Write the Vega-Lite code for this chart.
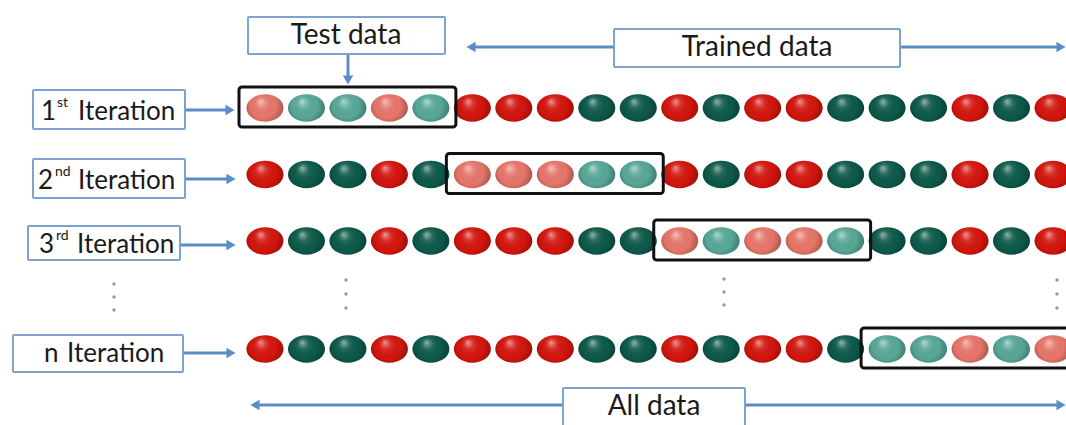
{
  "$schema": "https://vega.github.io/schema/vega-lite/v6.json",
  "width": 1066,
  "height": 425,
  "autosize": {"type": "fit", "contains": "padding"},
  "padding": 0,
  "background": "white",
  "config": {"view": {"stroke": null}},
  "datasets": {
    "balls": [
      {"row":1,"slot":1,"label":"red","fold":"test"},{"row":1,"slot":2,"label":"green","fold":"test"},{"row":1,"slot":3,"label":"green","fold":"test"},{"row":1,"slot":4,"label":"red","fold":"test"},{"row":1,"slot":5,"label":"green","fold":"test"},
      {"row":1,"slot":6,"label":"red","fold":"train"},{"row":1,"slot":7,"label":"red","fold":"train"},{"row":1,"slot":8,"label":"red","fold":"train"},{"row":1,"slot":9,"label":"green","fold":"train"},{"row":1,"slot":10,"label":"green","fold":"train"},
      {"row":1,"slot":11,"label":"red","fold":"train"},{"row":1,"slot":12,"label":"green","fold":"train"},{"row":1,"slot":13,"label":"red","fold":"train"},{"row":1,"slot":14,"label":"red","fold":"train"},{"row":1,"slot":15,"label":"green","fold":"train"},
      {"row":1,"slot":16,"label":"green","fold":"train"},{"row":1,"slot":17,"label":"green","fold":"train"},{"row":1,"slot":18,"label":"red","fold":"train"},{"row":1,"slot":19,"label":"green","fold":"train"},{"row":1,"slot":20,"label":"red","fold":"train"},
      {"row":2,"slot":1,"label":"red","fold":"train"},{"row":2,"slot":2,"label":"green","fold":"train"},{"row":2,"slot":3,"label":"green","fold":"train"},{"row":2,"slot":4,"label":"red","fold":"train"},{"row":2,"slot":5,"label":"green","fold":"train"},
      {"row":2,"slot":6,"label":"red","fold":"test"},{"row":2,"slot":7,"label":"red","fold":"test"},{"row":2,"slot":8,"label":"red","fold":"test"},{"row":2,"slot":9,"label":"green","fold":"test"},{"row":2,"slot":10,"label":"green","fold":"test"},
      {"row":2,"slot":11,"label":"red","fold":"train"},{"row":2,"slot":12,"label":"green","fold":"train"},{"row":2,"slot":13,"label":"red","fold":"train"},{"row":2,"slot":14,"label":"red","fold":"train"},{"row":2,"slot":15,"label":"green","fold":"train"},
      {"row":2,"slot":16,"label":"green","fold":"train"},{"row":2,"slot":17,"label":"green","fold":"train"},{"row":2,"slot":18,"label":"red","fold":"train"},{"row":2,"slot":19,"label":"green","fold":"train"},{"row":2,"slot":20,"label":"red","fold":"train"},
      {"row":3,"slot":1,"label":"red","fold":"train"},{"row":3,"slot":2,"label":"green","fold":"train"},{"row":3,"slot":3,"label":"green","fold":"train"},{"row":3,"slot":4,"label":"red","fold":"train"},{"row":3,"slot":5,"label":"green","fold":"train"},
      {"row":3,"slot":6,"label":"red","fold":"train"},{"row":3,"slot":7,"label":"red","fold":"train"},{"row":3,"slot":8,"label":"red","fold":"train"},{"row":3,"slot":9,"label":"green","fold":"train"},{"row":3,"slot":10,"label":"green","fold":"train"},
      {"row":3,"slot":11,"label":"red","fold":"test"},{"row":3,"slot":12,"label":"green","fold":"test"},{"row":3,"slot":13,"label":"red","fold":"test"},{"row":3,"slot":14,"label":"red","fold":"test"},{"row":3,"slot":15,"label":"green","fold":"test"},
      {"row":3,"slot":16,"label":"green","fold":"train"},{"row":3,"slot":17,"label":"green","fold":"train"},{"row":3,"slot":18,"label":"red","fold":"train"},{"row":3,"slot":19,"label":"green","fold":"train"},{"row":3,"slot":20,"label":"red","fold":"train"},
      {"row":4,"slot":1,"label":"red","fold":"train"},{"row":4,"slot":2,"label":"green","fold":"train"},{"row":4,"slot":3,"label":"green","fold":"train"},{"row":4,"slot":4,"label":"red","fold":"train"},{"row":4,"slot":5,"label":"green","fold":"train"},
      {"row":4,"slot":6,"label":"red","fold":"train"},{"row":4,"slot":7,"label":"red","fold":"train"},{"row":4,"slot":8,"label":"red","fold":"train"},{"row":4,"slot":9,"label":"green","fold":"train"},{"row":4,"slot":10,"label":"green","fold":"train"},
      {"row":4,"slot":11,"label":"red","fold":"train"},{"row":4,"slot":12,"label":"green","fold":"train"},{"row":4,"slot":13,"label":"red","fold":"train"},{"row":4,"slot":14,"label":"red","fold":"train"},{"row":4,"slot":15,"label":"green","fold":"train"},
      {"row":4,"slot":16,"label":"green","fold":"test"},{"row":4,"slot":17,"label":"green","fold":"test"},{"row":4,"slot":18,"label":"red","fold":"test"},{"row":4,"slot":19,"label":"green","fold":"test"},{"row":4,"slot":20,"label":"red","fold":"test"}
    ],
    "folds": [
      {"row":1,"from":1,"to":5},
      {"row":2,"from":6,"to":10},
      {"row":3,"from":11,"to":15},
      {"row":4,"from":16,"to":20}
    ],
    "boxes": [
      {"name":"1st Iteration","x":33,"x2":185,"y":90,"y2":129},
      {"name":"2nd Iteration","x":33,"x2":185,"y":159,"y2":198},
      {"name":"3rd Iteration","x":28,"x2":180,"y":226,"y2":260},
      {"name":"n Iteration","x":13,"x2":183,"y":335,"y2":372},
      {"name":"Test data","x":248,"x2":445,"y":17,"y2":54},
      {"name":"Trained data","x":614,"x2":900,"y":29,"y2":67},
      {"name":"All data","x":563,"x2":745,"y":388,"y2":426}
    ],
    "arrows": [
      {"x":185,"y":110,"x2":230,"y2":110},
      {"x":185,"y":179,"x2":231,"y2":179},
      {"x":180,"y":245,"x2":231,"y2":245},
      {"x":183,"y":353,"x2":231,"y2":353},
      {"x":348,"y":54,"x2":348,"y2":80},
      {"x":471,"y":47,"x2":614,"y2":47},
      {"x":900,"y":47,"x2":1061,"y2":47},
      {"x":255,"y":405,"x2":563,"y2":405},
      {"x":745,"y":405,"x2":1061,"y2":405}
    ],
    "heads": [
      {"x":230,"y":110,"dir":"right"},
      {"x":231,"y":179,"dir":"right"},
      {"x":231,"y":245,"dir":"right"},
      {"x":231,"y":353,"dir":"right"},
      {"x":348,"y":80,"dir":"down"},
      {"x":471,"y":47,"dir":"left"},
      {"x":1061,"y":47,"dir":"right"},
      {"x":255,"y":405,"dir":"left"},
      {"x":1061,"y":405,"dir":"right"}
    ],
    "bigtext": [
      {"text":"Test data","x":346,"y":36},
      {"text":"Trained data","x":757,"y":48},
      {"text":"All data","x":654,"y":407}
    ],
    "itertext": [
      {"text":"1","x":41,"y":112},
      {"text":"Iteration","x":78,"y":112},
      {"text":"2","x":38,"y":181},
      {"text":"Iteration","x":78,"y":181},
      {"text":"3","x":39,"y":245},
      {"text":"Iteration","x":77,"y":245},
      {"text":"n","x":44,"y":354},
      {"text":"Iteration","x":67,"y":354}
    ],
    "suptext": [
      {"text":"st","x":57,"y":103},
      {"text":"nd","x":55,"y":172},
      {"text":"rd","x":56,"y":236}
    ],
    "dots": [
      {"x":114,"y":284},{"x":114,"y":297},{"x":114,"y":310},
      {"x":346,"y":280},{"x":346,"y":294},{"x":346,"y":308},
      {"x":724,"y":279},{"x":724,"y":292},{"x":724,"y":305},
      {"x":1057,"y":280},{"x":1057,"y":294},{"x":1057,"y":308}
    ]
  },
  "layer": [
    {
      "encoding": {
        "x": {"field":"slot","type":"quantitative","scale":{"domain":[1,20],"range":[265,1053],"zero":false,"nice":false},"axis":null},
        "y": {"field":"row","type":"quantitative","scale":{"domain":[1,3,4],"range":[108,241,349],"zero":false,"nice":false},"axis":null}
      },
      "layer": [
        {
          "data": {"name":"balls"},
          "mark": {"type":"point","shape":"M -1 0 A 1 0.74 0 1 0 1 0 A 1 0.74 0 1 0 -1 0 Z","size":1369,"filled":true,"opacity":1,"strokeWidth":0},
          "encoding": {
            "color": {
              "field":"label","type":"nominal",
              "scale":{"domain":["red","green"],"range":["#d4160e","#0d5a4b"]},
              "legend":null,
              "condition":[
                {"test":"datum.fold==='test' && datum.label==='red'","value":"#e8766a"},
                {"test":"datum.fold==='test' && datum.label==='green'","value":"#58a898"}
              ]
            }
          }
        },
        {
          "data": {"name":"balls"},
          "mark": {
            "type":"point","shape":"M -1 0 A 1 0.74 0 1 0 1 0 A 1 0.74 0 1 0 -1 0 Z","size":1369,"filled":true,"opacity":1,"strokeWidth":0,
            "fill": {"gradient":"radial","x1":0.38,"y1":0.32,"r1":0,"x2":0.5,"y2":0.5,"r2":0.62,
              "stops":[
                {"offset":0,"color":"rgba(255,255,255,0.55)"},
                {"offset":0.22,"color":"rgba(255,255,255,0.12)"},
                {"offset":0.55,"color":"rgba(0,0,0,0)"},
                {"offset":1,"color":"rgba(0,0,0,0.4)"}
              ]}
          }
        },
        {
          "data": {"name":"folds"},
          "mark": {"type":"rect","filled":false,"stroke":"#111111","strokeWidth":3,"cornerRadius":3,"xOffset":-26,"x2Offset":25,"yOffset":-21,"y2Offset":19},
          "encoding": {
            "x": {"field":"from","type":"quantitative"},
            "x2": {"field":"to"},
            "y": {"field":"row","type":"quantitative"},
            "y2": {"field":"row"}
          }
        }
      ]
    },
    {
      "encoding": {
        "x": {"field":"x","type":"quantitative","scale":{"domain":[0,1066],"range":[0,1066],"zero":false,"nice":false},"axis":null},
        "y": {"field":"y","type":"quantitative","scale":{"domain":[0,425],"range":[0,425],"zero":false,"nice":false},"axis":null}
      },
      "layer": [
        {
          "data": {"name":"arrows"},
          "mark": {"type":"rule","color":"#5b8cc6","strokeWidth":3},
          "encoding": {"x2":{"field":"x2"},"y2":{"field":"y2"}}
        },
        {
          "data": {"name":"heads"},
          "mark": {"type":"point","filled":true,"size":110,"color":"#5b8cc6","opacity":1},
          "encoding": {
            "shape": {"field":"dir","type":"nominal","scale":{"domain":["right","left","down"],"range":["triangle-right","triangle-left","triangle-down"]},"legend":null}
          }
        },
        {
          "data": {"name":"boxes"},
          "mark": {"type":"rect","fill":"white","stroke":"#7ea3cc","strokeWidth":2,"cornerRadius":1},
          "encoding": {"x2":{"field":"x2"},"y2":{"field":"y2"}}
        },
        {
          "data": {"name":"bigtext"},
          "mark": {"type":"text","font":"Lato","fontSize":28,"color":"#1a1a1a","align":"center","baseline":"middle"},
          "encoding": {"text":{"field":"text"}}
        },
        {
          "data": {"name":"itertext"},
          "mark": {"type":"text","font":"Lato","fontSize":26,"color":"#1a1a1a","align":"left","baseline":"middle"},
          "encoding": {"text":{"field":"text"}}
        },
        {
          "data": {"name":"suptext"},
          "mark": {"type":"text","font":"Lato","fontSize":14,"color":"#1a1a1a","align":"left","baseline":"middle"},
          "encoding": {"text":{"field":"text"}}
        },
        {
          "data": {"name":"dots"},
          "mark": {"type":"point","filled":true,"size":12,"color":"#9a9a9a","opacity":1}
        }
      ]
    }
  ],
  "resolve": {"scale": {"x":"independent","y":"independent"}}
}
